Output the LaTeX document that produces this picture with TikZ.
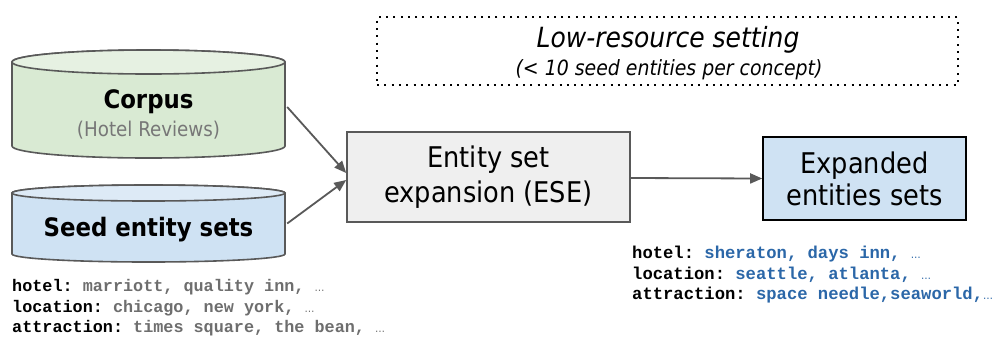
\documentclass[tikz,border=0pt]{standalone}
\usepackage{fontspec}
\setmainfont{DejaVu Sans Condensed}
\newfontfamily\monof{Liberation Mono}
\usetikzlibrary{arrows.meta}
\definecolor{corpusfill}{HTML}{D9EAD3}
\definecolor{corpustop}{HTML}{E6F1E2}
\definecolor{seedfill}{HTML}{CFE2F3}
\definecolor{seedtop}{HTML}{DDEAF6}
\definecolor{esefill}{HTML}{EFEFEF}
\definecolor{edgegray}{HTML}{595959}
\definecolor{valgray}{HTML}{6E6E6E}
\definecolor{valblue}{HTML}{2B67A8}
\definecolor{subgray}{HTML}{777777}
\tikzset{
  cylline/.style={draw=edgegray, line width=1.6pt},
  conn/.style={draw=edgegray, line width=1.8pt, -{Triangle[length=12pt,width=10pt]}},
  bigbold/.style={font=\fontsize{25.4}{28}\selectfont\bfseries},
  boxtext/.style={font=\fontsize{28.5}{35}\selectfont, align=center},
  listtext/.style={font=\monof\bfseries\fontsize{16.8}{20.8}\selectfont\frenchspacing, align=left, anchor=north west, inner sep=0pt},
}
\newcommand{\myell}{{\normalfont\fontsize{11}{11}\selectfont\dots}}
\begin{document}
\begin{tikzpicture}[x=1pt,y=-1pt]
\useasboundingbox (0,0) rectangle (1000,349);
\fill[white] (0,0) rectangle (1000,349);

% Corpus cylinder
\node[minimum width=273pt, minimum height=108pt, inner sep=0pt] (corpus) at (148.5,104) {};
\path[fill=corpusfill, cylline] (12,62) -- (12,146) arc[start angle=180,end angle=360,x radius=136.5pt,y radius=12pt] -- (285,62) arc[start angle=0,end angle=180,x radius=136.5pt,y radius=12pt] -- cycle;
\path[fill=corpustop, cylline] (148.5,62) ellipse[x radius=136.5pt, y radius=12pt];
\node[bigbold] (corpuslbl) at (148.5,102) {Corpus};
\node[font=\fontsize{20.3}{22}\selectfont, text=subgray] (corpussub) at (148.5,130) {(Hotel Reviews)};

% Seed cylinder
\node[minimum width=273pt, minimum height=77pt, inner sep=0pt] (seed) at (148.5,223.5) {};
\path[fill=seedfill, cylline] (12,193) -- (12,254) arc[start angle=180,end angle=360,x radius=136.5pt,y radius=8pt] -- (285,193) arc[start angle=0,end angle=180,x radius=136.5pt,y radius=8pt] -- cycle;
\path[fill=seedtop, cylline] (148.5,193) ellipse[x radius=136.5pt, y radius=8pt];
\node[bigbold] (seedlbl) at (148.5,230) {Seed entity sets};

% ESE box
\node[draw=edgegray, fill=esefill, line width=1.6pt, minimum width=283pt, minimum height=90pt, inner sep=0pt, boxtext] (ese) at (488.5,177) {Entity set\\expansion (ESE)};

% Expanded box
\node[draw=black, fill=seedfill, line width=1.6pt, minimum width=203pt, minimum height=83pt, inner sep=0pt, boxtext, font=\fontsize{28.5}{32}\selectfont] (exp) at (864.5,178.5) {Expanded\\entities sets};

% Dotted box
\node[draw=black, line width=2pt, dash pattern={on 2pt off 5.3pt}, minimum width=581pt, minimum height=68pt, inner sep=0pt] (low) at (667.5,51) {};
\node[font=\fontsize{27.8}{30}\selectfont\itshape] (lowa) at (668,40) {Low-resource setting};
\node[font=\fontsize{21}{23}\selectfont\itshape] (lowb) at (669,70) {(< 10 seed entities per concept)};

% connectors
\draw[conn] (corpus.east) ++(2,3) coordinate (c1) -- ([yshift=4pt]ese.west);
\draw[conn] (seed.east) ++(2,0) coordinate (c2) -- ([yshift=-3pt]ese.west);
\draw[conn] ([yshift=-1pt]ese.east) -- (exp.west);

% lists
\node[listtext] (leftlist) at (12,279) {hotel: \textcolor{valgray}{marriott, quality inn, \myell}\\location: \textcolor{valgray}{chicago, new york, \myell}\\attraction: \textcolor{valgray}{times square, the bean, \myell}};
\node[listtext, font=\monof\bfseries\fontsize{17.2}{20.6}\selectfont\frenchspacing] (rightlist) at (632,246) {hotel: \textcolor{valblue}{sheraton, days inn, \myell}\\location: \textcolor{valblue}{seattle, atlanta, \myell}\\attraction: \textcolor{valblue}{space needle,seaworld,\myell}};
\end{tikzpicture}
\end{document}
